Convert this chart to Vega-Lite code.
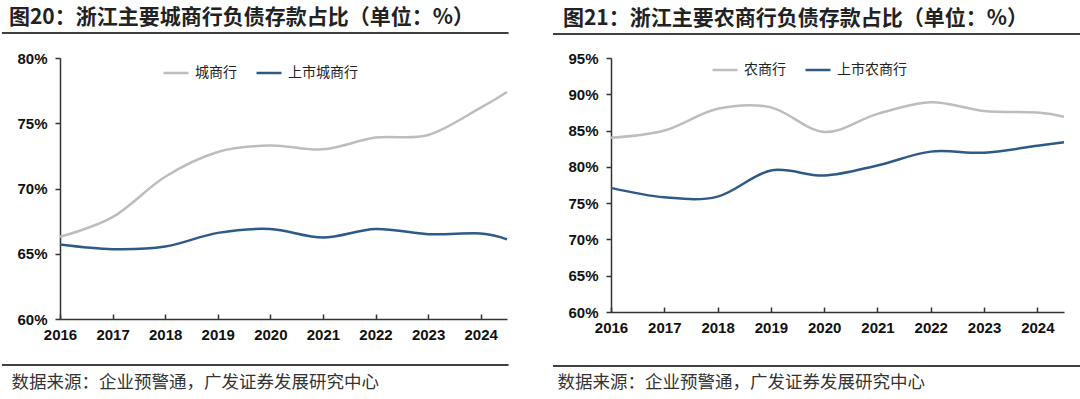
{
  "$schema": "https://vega.github.io/schema/vega-lite/v6.json",
  "padding": {"left": 0, "top": 6, "right": 0, "bottom": 0},
  "background": "white",
  "spacing": 39,
  "datasets": {
    "city": [
      {"year": 2016, "series": "城商行", "v": 66.3},
      {"year": 2017, "series": "城商行", "v": 67.8},
      {"year": 2018, "series": "城商行", "v": 70.9},
      {"year": 2019, "series": "城商行", "v": 72.8},
      {"year": 2020, "series": "城商行", "v": 73.3},
      {"year": 2021, "series": "城商行", "v": 73.0},
      {"year": 2022, "series": "城商行", "v": 73.9},
      {"year": 2023, "series": "城商行", "v": 74.1},
      {"year": 2024, "series": "城商行", "v": 76.2},
      {"year": 2024.5, "series": "城商行", "v": 77.4},
      {"year": 2016, "series": "上市城商行", "v": 65.7},
      {"year": 2017, "series": "上市城商行", "v": 65.35},
      {"year": 2018, "series": "上市城商行", "v": 65.55},
      {"year": 2019, "series": "上市城商行", "v": 66.6},
      {"year": 2020, "series": "上市城商行", "v": 66.9},
      {"year": 2021, "series": "上市城商行", "v": 66.25},
      {"year": 2022, "series": "上市城商行", "v": 66.9},
      {"year": 2023, "series": "上市城商行", "v": 66.5},
      {"year": 2024, "series": "上市城商行", "v": 66.55},
      {"year": 2024.5, "series": "上市城商行", "v": 66.1}
    ],
    "rural": [
      {"year": 2016, "series": "农商行", "v": 84.0},
      {"year": 2017, "series": "农商行", "v": 85.0},
      {"year": 2018, "series": "农商行", "v": 88.0},
      {"year": 2019, "series": "农商行", "v": 88.2},
      {"year": 2020, "series": "农商行", "v": 84.8},
      {"year": 2021, "series": "农商行", "v": 87.3},
      {"year": 2022, "series": "农商行", "v": 88.9},
      {"year": 2023, "series": "农商行", "v": 87.7},
      {"year": 2024, "series": "农商行", "v": 87.5},
      {"year": 2024.5, "series": "农商行", "v": 86.9},
      {"year": 2016, "series": "上市农商行", "v": 77.1},
      {"year": 2017, "series": "上市农商行", "v": 75.8},
      {"year": 2018, "series": "上市农商行", "v": 75.9},
      {"year": 2019, "series": "上市农商行", "v": 79.5},
      {"year": 2020, "series": "上市农商行", "v": 78.8},
      {"year": 2021, "series": "上市农商行", "v": 80.2},
      {"year": 2022, "series": "上市农商行", "v": 82.1},
      {"year": 2023, "series": "上市农商行", "v": 81.95},
      {"year": 2024, "series": "上市农商行", "v": 82.9},
      {"year": 2024.5, "series": "上市农商行", "v": 83.4}
    ]
  },
  "config": {
    "view": {"stroke": null},
    "axis": {
      "domainColor": "#333333", "domainWidth": 1.5, "tickColor": "#333333", "tickWidth": 1.5,
      "labelFont": "Liberation Sans", "labelFontWeight": "bold", "labelFontSize": 15, "labelColor": "#111111",
      "grid": false, "labelFlush": false, "labelOverlap": false
    },
    "axisX": {"tickSize": -5, "labelPadding": 13},
    "axisY": {"tickSize": 5, "labelPadding": 8},
    "title": {"font": "Noto Sans CJK SC", "fontSize": 21, "fontWeight": "bold", "color": "#222222"},
    "legend": {
      "orient": "none", "direction": "horizontal", "title": null,
      "symbolType": "stroke", "symbolSize": 625, "symbolStrokeWidth": 2.5,
      "labelFont": "Noto Sans CJK SC", "labelFontSize": 14, "labelColor": "#222222",
      "labelOffset": 5, "columnPadding": 14
    }
  },
  "hconcat": [
    {
      "width": 447, "height": 261,
      "title": {"text": "图20：浙江主要城商行负债存款占比（单位：%）", "anchor": "start", "frame": "bounds", "dx": 8, "offset": 4},
      "layer": [
        {
          "data": {"name": "city"},
          "mark": {"type": "line", "interpolate": "cardinal", "tension": 0, "strokeWidth": 2.5},
          "encoding": {
            "x": {"field": "year", "type": "quantitative",
              "scale": {"domain": [2016, 2024.5], "nice": false, "zero": false},
              "axis": {"values": [2016, 2017, 2018, 2019, 2020, 2021, 2022, 2023, 2024], "format": "d",
                "title": "数据来源：企业预警通，广发证券发展研究中心", "titleFont": "Noto Sans CJK SC", "titleFontWeight": "normal",
                "titleFontSize": 17.5, "titleColor": "#333333", "titleAnchor": "start", "titleAlign": "left", "titleBaseline": "middle",
                "titleX": -49, "titleY": 63}},
            "y": {"field": "v", "type": "quantitative",
              "scale": {"domain": [60, 80], "nice": false, "zero": false},
              "axis": {"values": [60, 65, 70, 75, 80], "labelExpr": "datum.value + '%'", "title": null}},
            "color": {"field": "series", "type": "nominal",
              "scale": {"domain": ["城商行", "上市城商行"], "range": ["#BDBDBD", "#2E5A88"]},
              "legend": {"legendX": 102, "legendY": 1}}
          }
        },
        {
          "data": {"values": [{}]},
          "mark": {"type": "rule", "clip": false, "color": "#404040", "strokeWidth": 2},
          "encoding": {"x": {"datum": 2014.895, "type": "quantitative"}, "x2": {"datum": 2024.53},
            "y": {"datum": 81.92, "type": "quantitative", "axis": {"values": [60, 65, 70, 75, 80], "labelExpr": "datum.value + '%'", "title": null}}}
        },
        {
          "data": {"values": [{}]},
          "mark": {"type": "rule", "clip": false, "color": "#404040", "strokeWidth": 2},
          "encoding": {"x": {"datum": 2014.895, "type": "quantitative"}, "x2": {"datum": 2024.53},
            "y": {"datum": 56.47, "type": "quantitative", "axis": {"values": [60, 65, 70, 75, 80], "labelExpr": "datum.value + '%'", "title": null}}}
        }
      ]
    },
    {
      "width": 453, "height": 254,
      "title": {"text": "图21：浙江主要农商行负债存款占比（单位：%）", "anchor": "start", "frame": "bounds", "dx": 11, "offset": 4},
      "layer": [
        {
          "data": {"name": "rural"},
          "mark": {"type": "line", "interpolate": "cardinal", "tension": 0, "strokeWidth": 2.5},
          "encoding": {
            "x": {"field": "year", "type": "quantitative",
              "scale": {"domain": [2016, 2024.5], "nice": false, "zero": false},
              "axis": {"values": [2016, 2017, 2018, 2019, 2020, 2021, 2022, 2023, 2024], "format": "d",
                "title": "数据来源：企业预警通，广发证券发展研究中心", "titleFont": "Noto Sans CJK SC", "titleFontWeight": "normal",
                "titleFontSize": 17.5, "titleColor": "#333333", "titleAnchor": "start", "titleAlign": "left", "titleBaseline": "middle",
                "titleX": -54, "titleY": 70}},
            "y": {"field": "v", "type": "quantitative",
              "scale": {"domain": [60, 95], "nice": false, "zero": false},
              "axis": {"values": [60, 65, 70, 75, 80, 85, 90, 95], "labelExpr": "datum.value + '%'", "title": null}},
            "color": {"field": "series", "type": "nominal",
              "scale": {"domain": ["农商行", "上市农商行"], "range": ["#BDBDBD", "#2E5A88"]},
              "legend": {"legendX": 100, "legendY": -2}}
          }
        },
        {
          "data": {"values": [{}]},
          "mark": {"type": "rule", "clip": false, "color": "#404040", "strokeWidth": 2},
          "encoding": {"x": {"datum": 2014.911, "type": "quantitative"}, "x2": {"datum": 2024.958},
            "y": {"datum": 98.3, "type": "quantitative", "axis": {"values": [60, 65, 70, 75, 80, 85, 90, 95], "labelExpr": "datum.value + '%'", "title": null}}}
        },
        {
          "data": {"values": [{}]},
          "mark": {"type": "rule", "clip": false, "color": "#404040", "strokeWidth": 2},
          "encoding": {"x": {"datum": 2014.911, "type": "quantitative"}, "x2": {"datum": 2024.958},
            "y": {"datum": 52.56, "type": "quantitative", "axis": {"values": [60, 65, 70, 75, 80, 85, 90, 95], "labelExpr": "datum.value + '%'", "title": null}}}
        }
      ]
    }
  ],
  "resolve": {"scale": {"color": "independent"}}
}
